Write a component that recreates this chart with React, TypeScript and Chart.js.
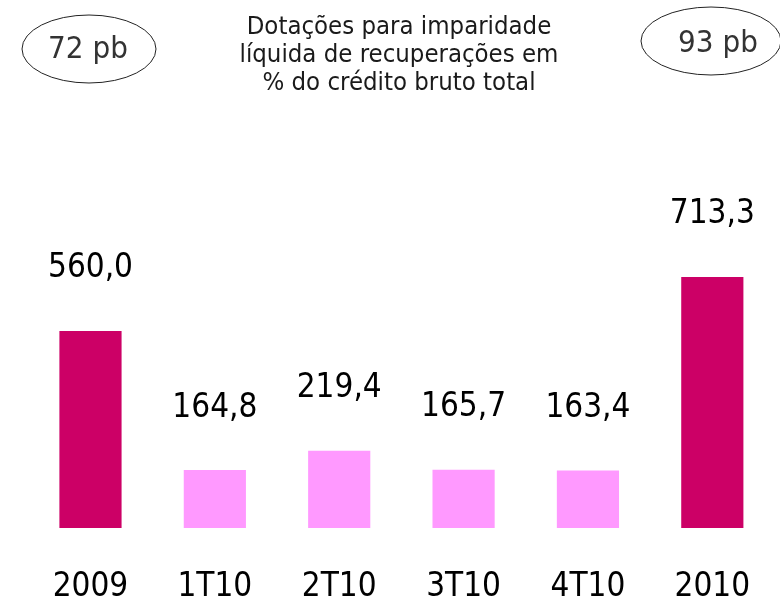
import React, { useEffect, useRef } from "react";
import { Chart, registerables } from "chart.js";

Chart.register(...registerables);

const categories = ["2009", "1T10", "2T10", "3T10", "4T10", "2010"];
const values = [560.0, 164.8, 219.4, 165.7, 163.4, 713.3];
const valueLabels = ["560,0", "164,8", "219,4", "165,7", "163,4", "713,3"];
const barColors = ["#CC0066", "#FF99FF", "#FF99FF", "#FF99FF", "#FF99FF", "#CC0066"];
const titleLines = ["Dotações para imparidade", "líquida de recuperações em", "% do crédito bruto total"];
const leftBadge = "72 pb";
const rightBadge = "93 pb";

const FONT = "'DejaVu Sans Condensed', 'DejaVu Sans', sans-serif";

const overlayPlugin = {
  id: "overlay",
  afterDatasetsDraw(chart: any) {
    const ctx = chart.ctx;
    const meta = chart.getDatasetMeta(0);
    ctx.save();
    ctx.fillStyle = "#000";
    ctx.textAlign = "center";
    ctx.textBaseline = "middle";
    ctx.font = `33px ${FONT}`;
    meta.data.forEach((bar: any, i: number) => {
      ctx.fillText(valueLabels[i], bar.x, bar.y - 62);
    });
    // title
    ctx.font = `25.5px ${FONT}`;
    ctx.fillStyle = "#1a1a1a";
    titleLines.forEach((t, i) => {
      ctx.fillText(t, 399, 27 + i * 28);
    });
    // badges
    const badge = (cx: number, cy: number, rx: number, ry: number, tx: number, ty: number, txt: string) => {
      ctx.beginPath();
      ctx.ellipse(cx, cy, rx, ry, 0, 0, Math.PI * 2);
      ctx.strokeStyle = "#222";
      ctx.lineWidth = 1;
      ctx.stroke();
      ctx.font = `31px ${FONT}`;
      ctx.fillStyle = "#333";
      ctx.fillText(txt, tx, ty);
    };
    badge(89, 49, 67, 34, 88, 50, leftBadge);
    badge(711, 41, 70, 34, 718, 44, rightBadge);
    ctx.restore();
  },
};

export default function App() {
  const ref = useRef<HTMLCanvasElement | null>(null);
  useEffect(() => {
    if (!ref.current) return;
    const chart = new Chart(ref.current, {
      type: "bar",
      data: {
        labels: categories,
        datasets: [
          {
            data: values,
            backgroundColor: barColors,
            barPercentage: 0.5,
            categoryPercentage: 1,
          },
        ],
      },
      options: {
        animation: false,
        responsive: false,
        maintainAspectRatio: false,
        layout: { padding: { top: 176, left: 28.3, right: 5.5, bottom: -5.6 } },
        plugins: { legend: { display: false }, tooltip: { enabled: false }, title: { display: false } },
        scales: {
          x: {
            grid: { display: false, drawTicks: true, tickLength: 40 },
            border: { display: false },
            ticks: { color: "#000", padding: 0, font: { size: 33, family: FONT } },
          },
          y: { display: false, min: 0, max: 1000 },
        },
      },
      plugins: [overlayPlugin],
    });
    return () => chart.destroy();
  }, []);
  return (
    <div style={{ position: "absolute", left: 0, top: 0, width: 780, height: 602, background: "#fff" }}>
      <canvas ref={ref} width={780} height={602} style={{ width: 780, height: 602 }} />
    </div>
  );
}
